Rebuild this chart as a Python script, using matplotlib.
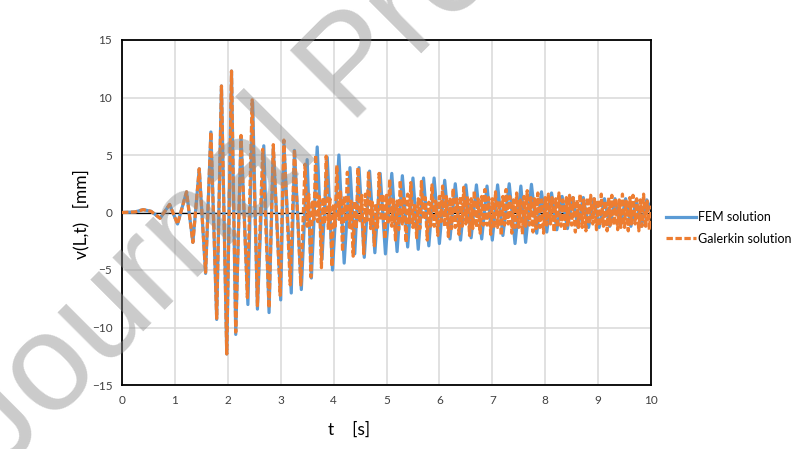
import matplotlib
matplotlib.use("Agg")
import matplotlib.pyplot as plt

plt.rcParams['font.family'] = ['Lato', 'DejaVu Sans']

# peaks / troughs (t in s, v in mm)
fem_t = [0.0, 0.25, 0.40, 0.55, 0.72, 0.90, 1.05, 1.22, 1.34, 1.46, 1.58, 1.68, 1.79, 1.88,
         1.98, 2.07, 2.15, 2.25, 2.38, 2.47, 2.56, 2.68, 2.78, 2.86, 3.00, 3.06, 3.20, 3.26,
         3.39, 3.50, 3.58, 3.69, 3.78, 3.88, 3.98, 4.10, 4.20, 4.31, 4.40, 4.48, 4.58, 4.68,
         4.78, 4.88, 4.98, 5.10, 5.20, 5.30, 5.40, 5.50, 5.60, 5.70, 5.80, 5.90, 6.00, 6.10,
         6.20, 6.30, 6.40, 6.50, 6.60, 6.70, 6.80, 6.90, 7.00, 7.10, 7.20, 7.32, 7.43, 7.54,
         7.63, 7.74, 7.84, 7.93, 8.03, 8.12, 8.22, 8.32, 8.42, 8.52, 8.62, 8.72, 8.82, 8.92,
         9.02, 9.12, 9.22, 9.32, 9.42, 9.52, 9.62, 9.72, 9.82, 9.92, 10.0]
fem_v = [0.0, 0.05, 0.25, 0.1, -0.5, 0.7, -1.0, 1.8, -2.6, 3.8, -5.3, 7.0, -9.3, 11.0,
         -12.3, 12.3, -10.6, 6.6, -8.0, 9.6, -8.4, 5.8, -8.7, 5.6, -7.6, 6.0, -7.0, 5.4,
         -6.7, 4.6, -5.7, 5.7, -4.1, 4.8, -5.0, 5.0, -4.4, 3.9, -3.6, 3.9, -3.9, 3.6,
         -3.5, 3.4, -3.6, 3.4, -3.4, 3.2, -3.0, 3.0, -3.2, 3.0, -2.9, 3.0, -2.7, 2.8,
         -2.3, 2.5, -2.4, 2.4, -2.2, 2.4, -2.3, 2.3, -2.4, 2.4, -2.0, 2.5, -2.7, 2.3,
         -2.6, 2.45, -1.8, 1.8, -1.7, 1.7, -1.5, 1.4, -1.4, 1.3, -1.3, 1.3, -1.3, 1.2,
         -1.3, 1.2, -1.2, 1.2, -1.2, 1.2, -1.2, 1.1, -1.2, 1.1, 0.2]

gal_t = [0.0, 0.25, 0.40, 0.55, 0.72, 0.90, 1.05, 1.22, 1.34, 1.46, 1.58, 1.68, 1.79, 1.88,
         1.98, 2.07, 2.15, 2.25, 2.37, 2.46, 2.56, 2.66, 2.78, 2.86, 2.99, 3.06, 3.18, 3.26,
         3.38,
         3.46, 3.50, 3.53, 3.57, 3.60, 3.63,
         3.66, 3.70, 3.73, 3.77, 3.80, 3.83,
         3.86, 3.90, 3.93, 3.97, 4.00, 4.03,
         4.06, 4.10, 4.13, 4.17, 4.20, 4.23,
         4.26, 4.30, 4.33, 4.37, 4.40, 4.43,
         4.46, 4.50, 4.53, 4.57, 4.60, 4.63,
         4.66, 4.70, 4.73, 4.77, 4.80, 4.83,
         4.86, 4.90, 4.93, 4.97, 5.00, 5.03,
         5.06, 5.10, 5.13, 5.17, 5.20, 5.23,
         5.26, 5.30, 5.33, 5.37, 5.40, 5.43,
         5.46, 5.50, 5.53, 5.57, 5.60, 5.63,
         5.66, 5.70, 5.73, 5.77, 5.80, 5.83,
         5.86, 5.90, 5.93, 5.97, 6.00, 6.03,
         6.06, 6.10, 6.13, 6.17, 6.20, 6.23,
         6.26, 6.30, 6.33, 6.37, 6.40, 6.43,
         6.46, 6.50, 6.53, 6.57, 6.60, 6.63,
         6.66, 6.70, 6.73, 6.77, 6.80, 6.83,
         6.86, 6.90, 6.93, 6.97, 7.00, 7.03,
         7.06, 7.10, 7.13, 7.17, 7.20, 7.23,
         7.26, 7.30, 7.33, 7.37, 7.40, 7.43,
         7.46, 7.50, 7.53, 7.57, 7.60, 7.63,
         7.66, 7.70, 7.73, 7.77, 7.80, 7.83,
         7.86, 7.90, 7.93, 7.97, 8.00, 8.03,
         8.06, 8.10, 8.13, 8.17, 8.20, 8.23,
         8.26, 8.30, 8.33, 8.37, 8.40, 8.43,
         8.46, 8.50, 8.53, 8.57, 8.60, 8.63,
         8.66, 8.70, 8.73, 8.77, 8.80, 8.83,
         8.86, 8.90, 8.93, 8.97, 9.00, 9.03,
         9.06, 9.10, 9.13, 9.17, 9.20, 9.23,
         9.26, 9.30, 9.33, 9.37, 9.40, 9.43,
         9.46, 9.50, 9.53, 9.57, 9.60, 9.63,
         9.66, 9.70, 9.73, 9.77, 9.80, 9.83,
         9.86, 9.90, 9.93, 9.97, 10.0]
gal_v = [0.0, 0.05, 0.25, 0.1, -0.5, 0.7, -1.0, 1.8, -2.6, 3.8, -5.2, 7.0, -9.2, 11.0,
         -12.3, 12.3, -10.4, 6.7, -7.4, 9.8, -8.1, 5.5, -8.3, 5.9, -7.2, 6.3, -6.3, 5.5,
         -6.3,
         4.2, -1.2, 1.6, -5.6, 0.9, -0.6,
         5.0, -0.8, 1.4, -4.8, 1.3, -1.0,
         4.9, -1.5, 1.2, -4.7, 0.7, -1.2,
         4.1, -0.6, 1.8, -3.4, 1.4, -0.8,
         3.5, -1.3, 1.0, -3.8, 1.0, -1.4,
         3.9, -0.9, 1.5, -3.6, 1.6, -0.7,
         3.6, -1.4, 0.9, -2.9, 0.8, -1.3,
         3.4, -0.7, 1.6, -2.3, 1.5, -1.0,
         2.9, -1.2, 1.1, -2.4, 1.0, -1.5,
         2.8, -1.0, 1.4, -2.6, 1.6, -0.9,
         2.6, -1.3, 0.8, -2.2, 1.2, -1.4,
         2.7, -0.6, 1.3, -2.4, 0.9, -1.2,
         2.4, -1.2, 1.0, -2.0, 1.4, -0.8,
         2.3, -1.2, 1.4, -2.1, 1.3, -1.4,
         2.1, -1.3, 1.2, -1.9, 1.4, -1.2,
         2.2, -1.0, 1.4, -2.0, 1.2, -1.4,
         1.9, -1.3, 1.2, -1.8, 1.4, -1.1,
         2.0, -1.1, 1.3, -1.9, 1.2, -1.4,
         1.8, -1.3, 1.0, -2.0, 1.4, -1.1,
         2.0, -1.0, 1.4, -1.8, 1.1, -1.3,
         1.7, -1.3, 1.1, -1.9, 1.4, -1.2,
         1.9, -1.1, 1.3, -1.7, 1.2, -1.4,
         1.7, -1.3, 1.1, -1.8, 1.3, -1.1,
         1.6, -1.0, 1.3, -1.7, 1.2, -1.3,
         1.7, -1.2, 1.1, -1.6, 1.3, -1.1,
         1.5, -1.1, 1.3, -1.7, 1.1, -1.3,
         1.6, -1.3, 1.1, -1.6, 1.3, -1.0,
         1.5, -1.0, 1.2, -1.5, 1.1, -1.2,
         1.6, -1.2, 1.0, -1.6, 1.3, -1.1,
         1.5, -1.1, 1.2, -1.5, 1.1, -1.3,
         1.6, -1.3, 1.0, -1.6, 1.3, -1.0,
         1.5, -1.0, 1.2, -1.6, 1.1, -1.2,
         1.6, -1.2, 1.0, -1.5, 0.6]

x_ticks = [0, 1, 2, 3, 4, 5, 6, 7, 8, 9, 10]
y_ticks = [-15, -10, -5, 0, 5, 10, 15]

blue = '#5B9BD5'
orange = '#ED7D31'

fig = plt.figure(figsize=(8.01, 4.49), dpi=100)
ax = fig.add_axes([122 / 801, 1 - 385 / 449, 529 / 801, 345 / 449])

ax.axhline(0, color='black', lw=0.9, zorder=1.5)
ax.plot(fem_t, fem_v, color=blue, lw=2.3, solid_joinstyle='round',
        label='FEM solution', zorder=2)
ax.plot(gal_t, gal_v, color=orange, lw=2.3, dashes=(2.0, 0.8),
        dash_joinstyle='round', label='Galerkin solution', zorder=3)

ax.set_xlim(0, 10)
ax.set_ylim(-15, 15)
ax.set_xticks(x_ticks)
ax.set_yticks(y_ticks)
ax.grid(True, color='#D9D9D9', lw=1.1)
ax.set_axisbelow(True)
ax.tick_params(length=0, labelsize=8.5, colors='#404040', pad=7)
for s in ax.spines.values():
    s.set_color('black')
    s.set_linewidth(1.3)

fig.text(81 / 801, 1 - 214 / 449, 'v(L,t)   [mm]', rotation=90, ha='center',
         va='center', fontsize=12.5)
fig.text(349 / 801, 1 - 430 / 449, 't    [s]', ha='center', va='center',
         fontsize=12.5)

fig.legend(loc='center left', bbox_to_anchor=(655 / 801, 1 - 228 / 449),
           frameon=False, fontsize=9, handlelength=2.4, handletextpad=0.15,
           labelspacing=0.75)

# watermark of the source page
fig.text(0 / 801, 1 - 474 / 449, 'Journal Pre-proof', rotation=45,
         rotation_mode='anchor', ha='left', va='baseline', fontsize=100,
         family='Liberation Sans', color='0.55', alpha=0.45, zorder=10)

fig.savefig('out.png', dpi=100)
